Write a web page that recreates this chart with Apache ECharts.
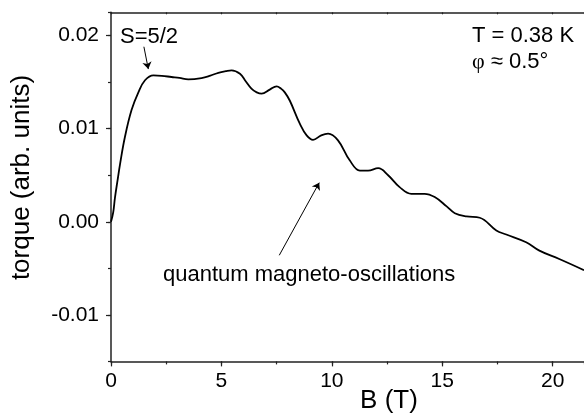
<!DOCTYPE html>
<html>
<head>
<meta charset="utf-8">
<script src="https://cdn.jsdelivr.net/npm/echarts@6/dist/echarts.min.js"></script>
<style>
  html, body { margin: 0; padding: 0; background: #fff; }
  #echart { width: 584px; height: 417px; }
</style>
</head>
<body>
<div id="echart"></div>
<script>
// --- data ------------------------------------------------------------------
var fieldB = [0, 0.1, 0.18, 0.3, 0.41, 0.63, 0.93, 1.24, 1.54, 1.92, 2.3, 2.74, 3.1, 3.5,
	4.1, 4.5, 4.86, 5.2, 5.46, 5.84, 6.1, 6.36, 6.6, 6.82, 7.19, 7.5, 7.7, 7.87, 8.1,
	8.55, 8.86, 9.15, 9.52, 9.83, 10.28, 10.81, 11.27, 11.64, 12.1, 12.55, 13.07, 13.6,
	14.2, 14.66, 15.2, 15.57, 16.1, 16.7, 17.45, 17.9, 18.8, 19.4, 20.3, 21.42];
var torque = [0, 0.0010, 0.0026, 0.0045, 0.0062, 0.0091, 0.0120, 0.0139, 0.0152, 0.01573,
	0.01568, 0.01555, 0.01545, 0.0153, 0.01544, 0.0157, 0.0160, 0.01618, 0.01627, 0.0159,
	0.0151, 0.0143, 0.0139, 0.01376, 0.0142, 0.01455, 0.0143, 0.0139, 0.0130, 0.01054,
	0.00928, 0.0088, 0.00928, 0.00946, 0.00874, 0.0066, 0.0055, 0.0055, 0.00576, 0.0050,
	0.00372, 0.0030, 0.0030, 0.00265, 0.00165, 0.00092, 0.00057, 0.00043, -0.00094,
	-0.00137, -0.0022, -0.0031, -0.0040, -0.0052];
var yMajorTicks = [-0.01, 0, 0.01, 0.02];

// annotation arrows, in data units [B, torque]
var arrowSpin = [[1.49, 0.0188], [1.69, 0.0164]];
var arrowOsc = [[7.62, -0.0036], [9.43, 0.0042]];

var seriesData = [];
for (var i = 0; i < fieldB.length; i++) {
	seriesData.push([fieldB[i], torque[i]]);
}

var FONT = 'Liberation Sans, Arial, sans-serif';
var AXIS_COLOR = '#222';

var eChart = echarts.init(document.getElementById('echart'));

var eChartOption = {
	animation: false,
	backgroundColor: '#fff',
	grid: {
		left: 111,
		top: 12.3,
		width: 473,
		height: 349.1,
		containLabel: false,
		outerBoundsMode: 'none'
	},
	xAxis: [
		{	// minor ticks + axis line
			type: 'value', position: 'bottom', min: 0, max: 21.42, interval: 2.5,
			axisLine: { show: true, onZero: false, lineStyle: { color: AXIS_COLOR, width: 1.5 } },
			axisTick: { show: true, inside: false, length: 3, lineStyle: { color: AXIS_COLOR, width: 1.2 } },
			axisLabel: { show: false },
			splitLine: { show: false }
		},
		{	// major ticks + labels
			type: 'value', position: 'bottom', min: 0, max: 21.42, interval: 5,
			axisLine: { show: false, onZero: false },
			axisTick: { show: true, inside: false, length: 5, lineStyle: { color: AXIS_COLOR, width: 1.2 } },
			axisLabel: { show: true, margin: 9, color: '#000', fontSize: 21, fontFamily: FONT },
			splitLine: { show: false }
		},
		{	// top frame
			type: 'value', position: 'top', min: 0, max: 21.42, interval: 2.5,
			axisLine: { show: true, onZero: false, lineStyle: { color: AXIS_COLOR, width: 1.5 } },
			axisTick: { show: true, inside: true, length: 2, lineStyle: { color: AXIS_COLOR, width: 1.2 } },
			axisLabel: { show: false },
			splitLine: { show: false }
		}
	],
	yAxis: [
		{
			type: 'value', position: 'left', min: -0.015, max: 0.0225, interval: 0.005,
			axisLine: { show: true, onZero: false, lineStyle: { color: AXIS_COLOR, width: 1.5 } },
			axisTick: { show: true, inside: false, length: 3, lineStyle: { color: AXIS_COLOR, width: 1.2 } },
			axisLabel: { show: false },
			splitLine: { show: false }
		},
		{
			type: 'value', position: 'left', min: -0.015, max: 0.0225,
			axisLine: { show: false, onZero: false },
			axisTick: { show: true, inside: false, length: 5, customValues: yMajorTicks,
				lineStyle: { color: AXIS_COLOR, width: 1.2 } },
			axisLabel: {
				show: true, margin: 12, color: '#000', fontSize: 21, fontFamily: FONT,
				customValues: yMajorTicks,
				formatter: function (v) { return (Math.abs(v) < 1e-9 ? 0 : v).toFixed(2); }
			},
			splitLine: { show: false }
		}
	],
	series: [
		{
			type: 'line',
			xAxisIndex: 0,
			yAxisIndex: 0,
			data: seriesData,
			smooth: 0.4,
			showSymbol: false,
			lineStyle: { color: '#000', width: 1.8 },
			markLine: {
				silent: true,
				symbol: ['none', 'arrow'],
				symbolSize: 7,
				label: { show: false },
				lineStyle: { color: '#000', width: 1, type: 'solid' },
				data: [
					[{ coord: arrowSpin[0] }, { coord: arrowSpin[1] }],
					[{ coord: arrowOsc[0] }, { coord: arrowOsc[1] }]
				]
			}
		}
	],
	graphic: [
		{
			type: 'text', x: 22, y: 177.5, rotation: Math.PI / 2,
			style: { text: 'torque (arb. units)', font: '26px ' + FONT, fill: '#000',
				textAlign: 'center', textVerticalAlign: 'middle' }
		},
		{
			type: 'text', x: 389, y: 401,
			style: { text: 'B (T)', font: '26px ' + FONT, fill: '#000',
				textAlign: 'center', textVerticalAlign: 'middle' }
		},
		{
			type: 'text', x: 120, y: 37,
			style: { text: 'S=5/2', font: '22px ' + FONT, fill: '#000',
				textAlign: 'left', textVerticalAlign: 'middle' }
		},
		{
			type: 'text', x: 472, y: 36,
			style: { text: 'T = 0.38 K', font: '22px ' + FONT, fill: '#000',
				textAlign: 'left', textVerticalAlign: 'middle' }
		},
		{
			type: 'text', x: 472, y: 62,
			style: {
				text: '{g|φ} ≈ 0.5°',
				font: '22px ' + FONT, fill: '#000',
				textAlign: 'left', textVerticalAlign: 'middle',
				rich: { g: { fontFamily: 'Liberation Serif, serif', fontSize: 22, fill: '#000' } }
			}
		},
		{
			type: 'text', x: 163, y: 275,
			style: { text: 'quantum magneto-oscillations', font: '22px ' + FONT, fill: '#000',
				textAlign: 'left', textVerticalAlign: 'middle' }
		}
	]
};

eChart.setOption(eChartOption);
</script>
</body>
</html>
